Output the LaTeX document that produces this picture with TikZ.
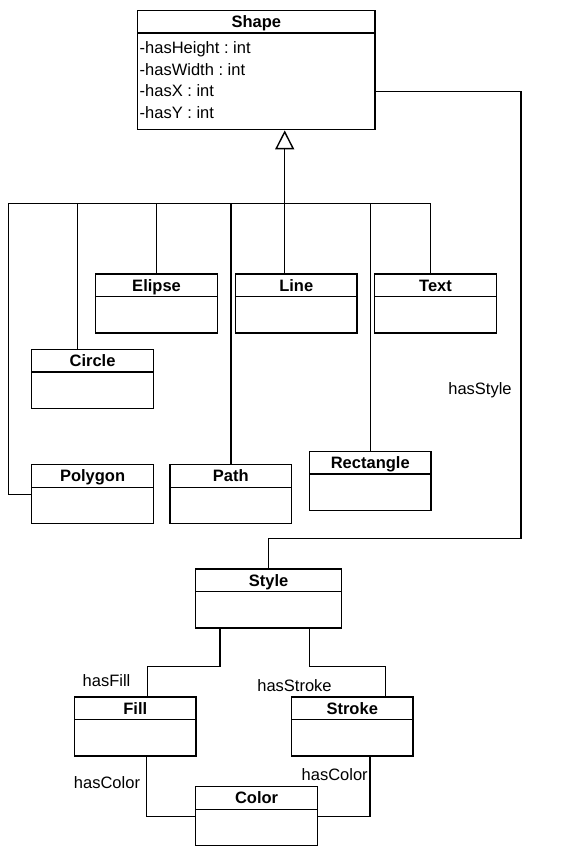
\documentclass[tikz,border=0pt]{standalone}
\usepackage{fontspec}
\setmainfont{Liberation Sans}
\usetikzlibrary{arrows.meta}
\frenchspacing

\begin{document}
\begin{tikzpicture}[x=1pt,y=-1pt,line width=1.4pt,
                    every node/.style={font=\fontsize{16.5}{20}\selectfont}]
  \tikzstyle{class}=[draw,anchor=north west,minimum width=121.7pt,
                     inner xsep=0pt,inner ysep=0pt,text height=17pt,text depth=42pt,
                     font=\fontsize{16.5}{20}\selectfont\bfseries,
                     path picture={\draw ([yshift=-22.5pt]path picture bounding box.north west)
                                      -- ([yshift=-22.5pt]path picture bounding box.north east);}]
  \tikzstyle{attr}=[anchor=base west,inner sep=0pt]
  \tikzstyle{role}=[inner sep=0pt]

  \useasboundingbox (0,0) rectangle (575,850);

  \node[class,minimum width=237.3pt,text depth=102pt] (shp) at (137,10) {Shape};
  \node[attr] (a1) at (139,53.5)  {-hasHeight : int};
  \node[attr] (a2) at (139,75.1)  {-hasWidth : int};
  \node[attr] (a3) at (139,96.7)  {-hasX : int};
  \node[attr] (a4) at (139,118.3) {-hasY : int};

  \node[class] (elp) at (95,273.3)    {Elipse};
  \node[class] (lin) at (234.7,273.3) {Line};
  \node[class] (txt) at (374,273.3)   {Text};
  \node[class] (cir) at (31,348.7)    {Circle};
  \node[class] (pol) at (31,464)      {Polygon};
  \node[class] (pth) at (169.3,464)   {Path};
  \node[class] (rec) at (308.7,450.7) {Rectangle};

  \node[class,minimum width=146pt] (sty) at (195,568.3) {Style};
  \node[class] (fil) at (73.7,696.3)  {Fill};
  \node[class] (stk) at (290.7,696.3) {Stroke};
  \node[class] (col) at (195,786)     {Color};

  \coordinate (bus)  at (284.7,203.3);
  \coordinate (lft)  at (8.7,203.3);
  \coordinate (bend) at (521,538.7);

  % subclasses of Shape
  \draw[-{Triangle[open,length=19pt,width=19pt]}] (bus |- lin.north) -- (bus |- shp.south);
  \draw (elp.north) |- (bus);
  \draw ([xshift=-15pt]cir.north) |- (bus);
  \draw (pth.north) |- (bus);
  \draw (rec.north) |- (bus);
  \draw ([xshift=-4.8pt]txt.north) |- (bus);
  \draw (pol.west) -| (lft) -- (bus);

  % associations
  \draw ([yshift=-21.2pt]shp.east) -| (bend) -| (sty.north);
  \draw ([xshift=-48.7pt]sty.south) -- ++(0,37.7) -| ([xshift=12.2pt]fil.north);
  \draw ([xshift=41pt]sty.south) -- ++(0,37.7) -| ([xshift=33.4pt]stk.north);
  \draw ([xshift=11pt]fil.south) |- (col.west);
  \draw ([xshift=17.8pt]stk.south) |- (col.east);

  \node[role] (r1) at (480,390.7)   {hasStyle};
  \node[role] (r2) at (106.5,681)   {hasFill};
  \node[role] (r3) at (294.5,686)   {hasStroke};
  \node[role] (r4) at (107,782.3)   {hasColor};
  \node[role] (r5) at (334.7,775)   {hasColor};

\end{tikzpicture}
\end{document}
